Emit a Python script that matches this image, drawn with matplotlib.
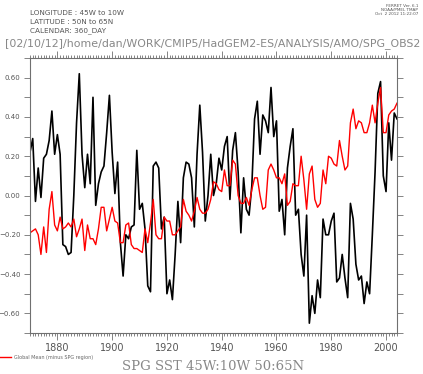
import numpy as np
import matplotlib
matplotlib.use("Agg")
import matplotlib.pyplot as plt
from matplotlib.ticker import MultipleLocator

# annual values, 1870-2004
years = np.arange(1870, 2005)

spg_sst = [
    0.22, 0.29, -0.03, 0.14, -0.01, 0.19, 0.21, 0.28, 0.43, 0.21,
    0.31, 0.21, -0.25, -0.26, -0.30, -0.29, 0.00, 0.37, 0.62, 0.21,
    0.04, 0.21, 0.06, 0.50, -0.05, 0.06, 0.12, 0.15, 0.32, 0.51,
    0.22, 0.01, 0.17, -0.24, -0.41, -0.20, -0.22, -0.16, -0.15, 0.23,
    -0.07, -0.04, -0.17, -0.46, -0.49, 0.15, 0.17, 0.14, -0.17, -0.11,
    -0.50, -0.43, -0.53, -0.30, -0.03, -0.24, 0.09, 0.17, 0.16, 0.09,
    -0.16, 0.21, 0.46, 0.22, -0.13, 0.00, 0.21, 0.00, 0.06, 0.19,
    0.13, 0.25, 0.30, -0.02, 0.23, 0.32, 0.12, -0.19, 0.09, -0.07,
    -0.10, 0.05, 0.39, 0.48, 0.21, 0.41, 0.38, 0.32, 0.55, 0.30,
    0.38, -0.08, -0.02, -0.20, 0.14, 0.25, 0.34, -0.10, -0.07, -0.30,
    -0.41, -0.10, -0.65, -0.51, -0.60, -0.43, -0.52, -0.12, -0.20, -0.20,
    -0.13, -0.09, -0.44, -0.42, -0.30, -0.42, -0.52, -0.04, -0.12, -0.35,
    -0.43, -0.41, -0.55, -0.44, -0.50, -0.20, 0.12, 0.52, 0.58, 0.10,
    0.02, 0.37, 0.18, 0.42, 0.39,
]

global_mean = [
    -0.19, -0.18, -0.17, -0.20, -0.30, -0.16, -0.29, -0.07, 0.02, -0.15,
    -0.18, -0.11, -0.17, -0.16, -0.14, -0.16, -0.12, -0.21, -0.17, -0.12,
    -0.28, -0.15, -0.22, -0.22, -0.25, -0.17, -0.06, -0.06, -0.18, -0.12,
    -0.06, -0.13, -0.14, -0.24, -0.24, -0.15, -0.14, -0.25, -0.27, -0.27,
    -0.28, -0.29, -0.17, -0.24, -0.14, -0.02, -0.20, -0.22, -0.22, -0.11,
    -0.13, -0.13, -0.20, -0.20, -0.18, -0.16, -0.02, -0.08, -0.10, -0.13,
    -0.08, -0.01, -0.07, -0.09, -0.09, -0.07, -0.02, 0.07, 0.06, 0.03,
    0.02, 0.13, 0.05, 0.05, 0.18, 0.16, 0.00, -0.04, -0.04, -0.01,
    -0.05, 0.03, 0.09, 0.09, 0.00, -0.07, -0.06, 0.13, 0.16, 0.13,
    0.09, 0.09, 0.06, 0.11, -0.05, -0.03, 0.06, 0.05, 0.05, 0.20,
    0.08, -0.07, 0.11, 0.15, -0.02, -0.06, -0.04, 0.13, 0.06, 0.20,
    0.19, 0.16, 0.15, 0.28, 0.20, 0.13, 0.15, 0.37, 0.44, 0.34,
    0.38, 0.37, 0.32, 0.32, 0.37, 0.46, 0.37, 0.47, 0.55, 0.32,
    0.32, 0.41, 0.43, 0.44, 0.47,
]

grey = "#707070"

fig = plt.figure(figsize=(4.23, 3.74), dpi=100)
ax = fig.add_axes([0.0709, 0.1096, 0.8676, 0.7353])

ax.plot(years, spg_sst, color="black", lw=1.2)
ax.plot(years, global_mean, color="red", lw=1.0, label="Global Mean (minus SPG region)")

ax.set_xlim(1870, 2004)
ax.set_ylim(-0.7, 0.7)

ax.xaxis.set_major_locator(MultipleLocator(20))
ax.xaxis.set_minor_locator(MultipleLocator(1))
ax.yaxis.set_major_locator(MultipleLocator(0.2))
ax.yaxis.set_minor_locator(MultipleLocator(0.1))
ax.yaxis.set_major_formatter(plt.FuncFormatter(lambda v, p: f"{v:.2f}".replace("-", "\u2212")))

ax.tick_params(which="both", direction="out", color=grey, width=0.6,
               top=True, right=True, labelcolor="#555555")
ax.tick_params(axis="x", which="major", length=5, labelsize=7, pad=2.5)
ax.tick_params(axis="x", which="minor", length=2.5)
ax.tick_params(axis="y", which="both", length=4, labelsize=5, pad=3)
for s in ax.spines.values():
    s.set_color(grey)
    s.set_linewidth(0.8)

# header texts
fig.text(30 / 423, 1 - 13 / 374, "LONGITUDE : 45W to 10W", fontsize=5.2, color="#555555", va="center")
fig.text(30 / 423, 1 - 22 / 374, "LATITUDE : 50N to 65N", fontsize=5.2, color="#555555", va="center")
fig.text(30 / 423, 1 - 31 / 374, "CALENDAR: 360_DAY", fontsize=5.2, color="#555555", va="center")
fig.text(418 / 423, 1 - 4 / 374, "FERRET Ver. 6.1\nNOAA/PMEL TMAP\nOct  2 2012 11:22:07",
         fontsize=3, color="#555555", ha="right", va="top", multialignment="right", linespacing=1.0)
fig.text(5 / 423, 1 - 44 / 374, "[02/10/12]/home/dan/WORK/CMIP5/HadGEM2-ES/ANALYSIS/AMO/SPG_OBS2",
         fontsize=7.95, color="#888888", va="center")

# title at bottom
fig.text(213 / 423, 1 - 367 / 374, "SPG SST 45W:10W 50:65N", fontsize=9.5, color="#888888",
         family="DejaVu Serif", ha="center", va="center")

leg = fig.legend(loc="center left", bbox_to_anchor=(-0.005, 1 - 357 / 374), frameon=False,
                 fontsize=3.5, handlelength=2.2, handletextpad=0.8, borderaxespad=0)
for t in leg.get_texts():
    t.set_color("#666666")

fig.savefig("out.png", dpi=100)
